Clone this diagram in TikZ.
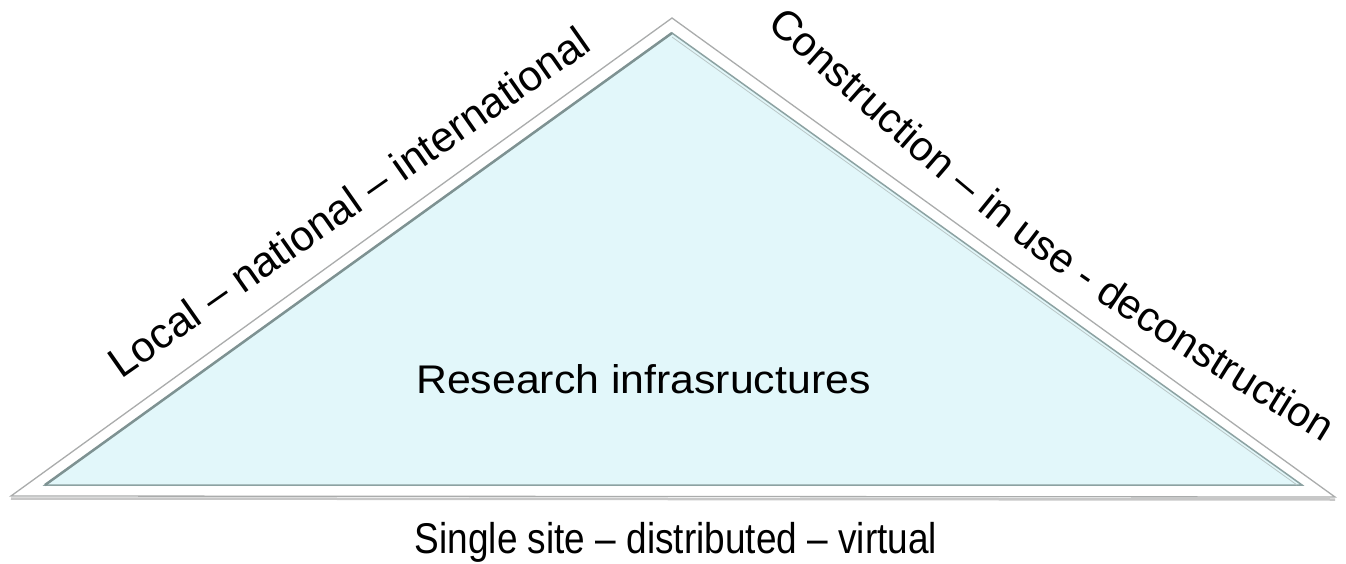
\documentclass[tikz,border=0pt]{standalone}
\usepackage{fontspec}
\setmainfont{Liberation Sans}
\usetikzlibrary{decorations.text}
\definecolor{paleblue}{RGB}{226,247,250}
\definecolor{framegray}{RGB}{170,172,172}
\definecolor{rimgray}{RGB}{140,162,162}
\tikzset{
  sidelabel/.style={font=\fontsize{42.5}{50}\selectfont,inner sep=0pt},
  midlabel/.style={font=\fontsize{40}{48}\selectfont,inner sep=0pt}
}
\begin{document}
\begin{tikzpicture}[x=1pt,y=-1pt]
\useasboundingbox (0,0) rectangle (1346,564);
% corners of the frame and of the inner panel
\coordinate (top) at (672,18);
\coordinate (left) at (11,496);
\coordinate (right) at (1335,497);
\coordinate (itop) at (672,33);
\coordinate (ileft) at (45,485);
\coordinate (iright) at (1302,485);
\draw[black!22,line width=2.5] ([yshift=-2.5]left) -- ([yshift=-2.5]right);
\draw[framegray,line width=1.3,fill=white] (top) -- (left) -- (right) -- cycle;
\draw[rimgray,line width=1.5,fill=paleblue] (itop) -- (ileft) -- (iright) -- cycle;
\draw[rimgray!90!black,line width=2.5] (ileft) -- (itop);
\draw[rimgray!60,line width=0.8] ([yshift=-4]itop) -- ([xshift=-5]iright);
% labels
\node[midlabel,xscale=1.07,anchor=base west] (title) at (416,393) {Research infrasructures};
\node[midlabel,font=\fontsize{43}{50}\selectfont,xscale=0.86,anchor=base] (span) at (676,553) {Single site – distributed – virtual};
\node[sidelabel,rotate=35,anchor=base west] (reach) at (121,380) {Local – national – international};
\path[decorate,decoration={text along path,text align=left,
  text={|\fontsize{41.5}{50}\selectfont|Construction – in use - deconstruction}}]
  (766,26) .. controls (1030,262) .. (1345,456);
\end{tikzpicture}
\end{document}
